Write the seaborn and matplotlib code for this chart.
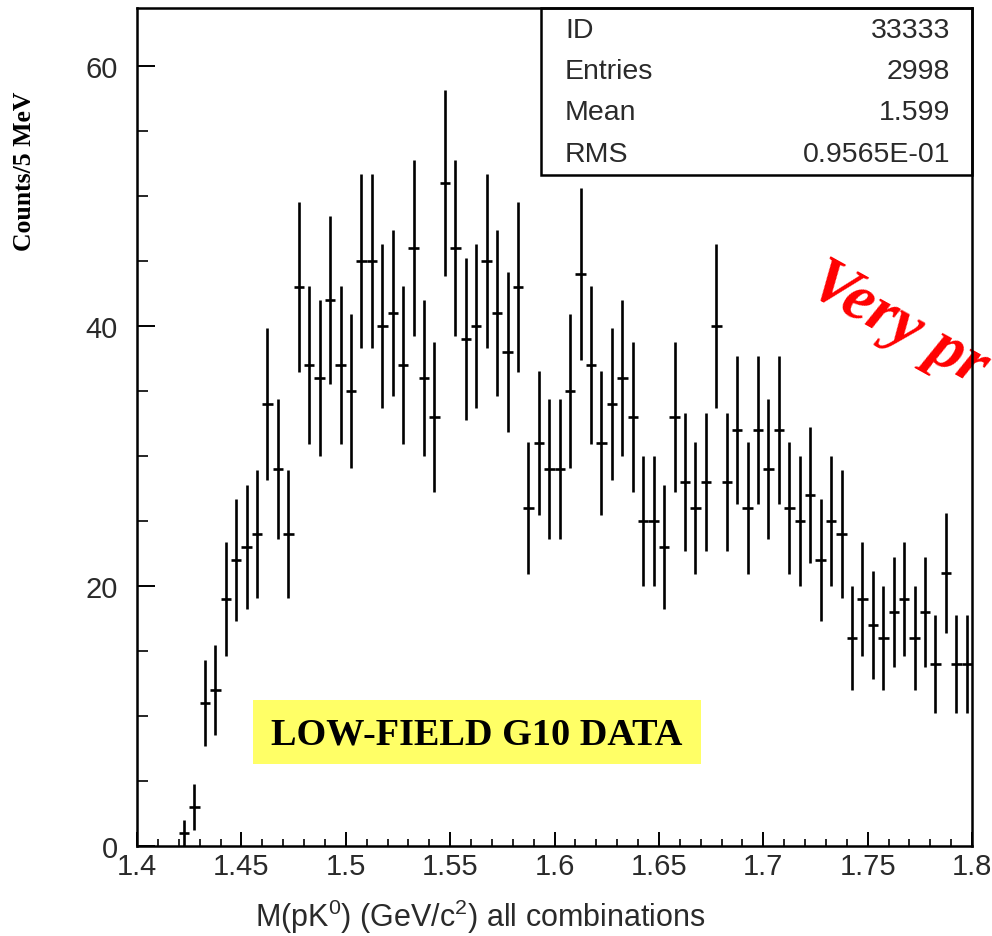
import numpy as np
import pandas as pd
import matplotlib
matplotlib.use("Agg")
import matplotlib.pyplot as plt
from matplotlib.patches import Rectangle
from matplotlib.ticker import MultipleLocator
import seaborn as sns

# ---------------- data ----------------
first_bin_center = 1.4225   # GeV/c^2
bin_width = 0.005           # 5 MeV
counts = [1, 3, 11, 12, 19, 22, 23, 24, 34, 29,
          24, 43, 37, 36, 42, 37, 35, 45, 45, 40,
          41, 37, 46, 36, 33, 51, 46, 39, 40, 45,
          41, 38, 43, 26, 31, 29, 29, 35, 44, 37,
          31, 34, 36, 33, 25, 25, 23, 33, 28, 26,
          28, 40, 28, 32, 26, 32, 29, 32, 26, 25,
          27, 22, 25, 24, 16, 19, 17, 16, 18, 19,
          16, 18, 14, 21, 14, 14]
x_ticks = [1.4, 1.45, 1.5, 1.55, 1.6, 1.65, 1.7, 1.75, 1.8]
x_tick_labels = ["1.4", "1.45", "1.5", "1.55", "1.6", "1.65", "1.7", "1.75", "1.8"]
y_ticks = [0, 20, 40, 60]
stats_names = ["ID", "Entries", "Mean", "RMS"]
stats_values = ["33333", "2998", "1.599", "0.9565E-01"]

df = pd.DataFrame({
    "mass": first_bin_center + bin_width * np.arange(len(counts)),
    "counts": counts,
})
df["err"] = np.sqrt(df["counts"])

# ---------------- style ----------------
sns.set_theme(style="ticks")
plt.rcParams["font.family"] = ["Liberation Sans", "DejaVu Sans"]
plt.rcParams["mathtext.default"] = "regular"

W, H = 992, 937
fig = plt.figure(figsize=(W / 100, H / 100), dpi=100, facecolor="white")
L, R, T, B = 137, 972, 9, 847
ax = fig.add_axes([L / W, 1 - B / H, (R - L) / W, (B - T) / H])
ax.set_facecolor("white")

ax.errorbar(df["mass"], df["counts"], yerr=df["err"], xerr=bin_width / 2,
            fmt="none", ecolor="black", elinewidth=1.9, capsize=0, zorder=3)

ax.set_xlim(1.4, 1.8)
ax.set_ylim(0, (B - T) / 13.0)

ax.set_xticks(x_ticks)
ax.set_xticklabels(x_tick_labels)
ax.set_yticks(y_ticks)
ax.xaxis.set_minor_locator(MultipleLocator(0.01))
ax.yaxis.set_minor_locator(MultipleLocator(5))

lab_col = "#2a2a2a"
ax.tick_params(axis="x", which="major", direction="in", length=10, width=1.4,
               labelsize=21, pad=4, colors="black", labelcolor=lab_col,
               top=False)
ax.tick_params(axis="x", which="minor", direction="in", length=5, width=1.4,
               top=False)
ax.tick_params(axis="y", which="major", direction="in", length=13, width=1.4,
               labelsize=21, pad=14, colors="black", labelcolor=lab_col,
               right=False)
ax.tick_params(axis="y", which="minor", direction="in", length=8, width=1.4,
               right=False)
for s in ax.spines.values():
    s.set_linewidth(1.8)
    s.set_color("black")
    s.set_zorder(5)

# stats box (top right)
bx0 = (541 - L) / (R - L)
by0 = (B - 176) / (B - T)
ax.add_patch(Rectangle((bx0, by0), 1 - bx0, 1 - by0, transform=ax.transAxes,
                       facecolor="white", edgecolor="black", linewidth=1.8,
                       zorder=4, clip_on=False))
row_y = [31, 72, 113, 155]
for name, val, ry in zip(stats_names, stats_values, row_y):
    yy = (B - ry) / (B - T)
    ax.text((565 - L) / (R - L), yy, name, transform=ax.transAxes,
            ha="left", va="center", fontsize=20.5, color=lab_col, zorder=6)
    ax.text((950 - L) / (R - L), yy, val, transform=ax.transAxes,
            ha="right", va="center", fontsize=20.5, color=lab_col, zorder=6)

# axis labels
fig.text(480 / W, 1 - 917 / H, r"M(pK$^{0}$) (GeV/c$^{2}$) all combinations",
         ha="center", va="center", fontsize=22, color=lab_col)
fig.text(25 / W, 1 - 171 / H, "Counts/5 MeV", rotation=90,
         ha="center", va="center", fontsize=18.5, fontweight="bold",
         family=["Liberation Serif", "DejaVu Serif"], color="black")

# yellow label
fig.patches.append(Rectangle((253 / W, 1 - 765 / H), 448 / W, 64 / H,
                             transform=fig.transFigure, facecolor="#FFFF66",
                             edgecolor="none", zorder=6))
fig.text(477 / W, 1 - 735 / H, "LOW-FIELD G10 DATA", ha="center", va="center",
         fontsize=27.5, fontweight="bold",
         family=["Liberation Serif", "DejaVu Serif"], color="black", zorder=7)

# red rotated text (cut by the right edge, as in the reference)
ax.text(806 / W, 1 - 292 / H, "Very pr", transform=fig.transFigure,
        rotation=-29, rotation_mode="anchor", ha="left", va="baseline",
        fontsize=47, fontweight="bold", fontstyle="italic",
        family=["Liberation Serif", "DejaVu Serif"], color="#FF0000",
        zorder=1, clip_on=False)

fig.savefig("out.png", dpi=100, facecolor="white")
